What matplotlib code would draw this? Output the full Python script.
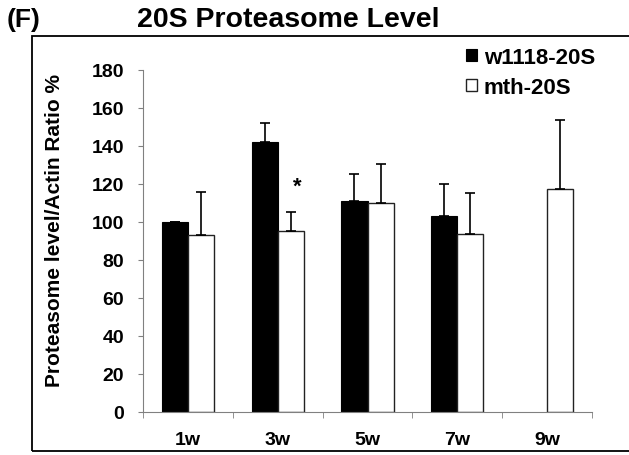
import matplotlib.pyplot as plt
from matplotlib.patches import Rectangle
import numpy as np

plt.rcParams['font.family'] = ['Liberation Sans', 'DejaVu Sans']
plt.rcParams['font.weight'] = 'bold'

weeks = ['1w', '3w', '5w', '7w', '9w']
w1118 = [100, 142, 111, 103, np.nan]
w1118_err = [0, 10, 14, 17, 0]
mth = [93, 95, 110, 93.5, 117.5]
mth_err = [23, 10, 20.5, 22, 36]

fig = plt.figure(figsize=(6.29, 4.56), dpi=100)
ax = fig.add_axes([143 / 629, 0.0943, 449 / 629, 0.75])

x = np.arange(len(weeks))
w = 0.29
gray = '#808080'
ax.bar(x - w / 2, w1118, w, color='black', edgecolor='black', linewidth=0.8,
       label='w1118-20S')
ax.errorbar(x - w / 2, w1118, yerr=[np.zeros(5), w1118_err], fmt='none',
            ecolor='black', elinewidth=1.2, capsize=3.5, capthick=1.2)
ax.bar(x + w / 2, mth, w, color='white', edgecolor='#222222', linewidth=1.0,
       label='mth-20S')
ax.errorbar(x + w / 2, mth, yerr=[np.zeros(5), mth_err], fmt='none',
            ecolor='black', elinewidth=1.2, capsize=3.5, capthick=1.2)

ax.text(1.215, 119, '*', ha='center', va='center', fontsize=16, fontweight='bold')

ax.set_xlim(-0.5, 4.5)
ax.set_ylim(0, 180)
ax.set_yticks(range(0, 181, 20))
ax.set_xticks(x)
ax.set_xticklabels(weeks, fontsize=14, fontweight='bold')
ax.set_xticks(np.arange(-0.5, 5, 1), minor=True)
ax.tick_params(axis='x', which='major', length=0, pad=14)
ax.tick_params(axis='x', which='minor', length=4.5, color=gray, direction='out')
ax.tick_params(axis='y', length=3.6, color=gray, labelsize=14, pad=10)
for t in ax.get_yticklabels():
    t.set_fontweight('bold')

for s in ['top', 'right']:
    ax.spines[s].set_visible(False)
for s in ['left', 'bottom']:
    ax.spines[s].set_color(gray)

ax.set_ylabel('Proteasome level/Actin Ratio %', fontsize=15, fontweight='bold')
ax.yaxis.set_label_coords(-0.176, 0.535)

ax.legend(loc='upper left', bbox_to_anchor=(466 / 629, 1 - 48 / 456),
          bbox_transform=fig.transFigure, frameon=False,
          fontsize=16, handlelength=0.5, handleheight=0.5,
          handletextpad=0.3, labelspacing=0.4, borderaxespad=0, borderpad=0)

fig.text(7 / 629, 1 - 20 / 456, '(F)', fontsize=19, fontweight='bold', va='center')
fig.text(137 / 629, 1 - 20 / 456, '20S Proteasome Level', fontsize=20.5,
         fontweight='bold', ha='left', va='center')

fig.patches.append(Rectangle((32 / 629, 4 / 456), 1.0, 1 - 41 / 456,
                             transform=fig.transFigure, fill=False,
                             edgecolor='black', linewidth=1.3))

fig.savefig('out.png', dpi=100)
